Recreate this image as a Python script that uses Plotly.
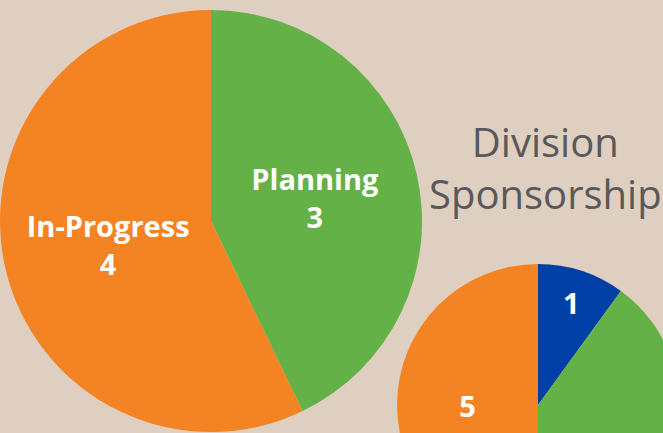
import plotly.graph_objects as go

# project status
status_labels = ["Planning", "In-Progress"]
status_values = [3, 4]
status_colors = ["#63B147", "#F48423"]

# division sponsorship
division_labels = ["Division A", "Division B", "Division C"]
division_values = [1, 4, 5]
division_colors = ["#003FA5", "#63B147", "#F48423"]

bg = "#DFCFC0"

# the figure is a bit larger than the window so the small pie gets cut off at the edges
W, H = 680, 548


def px_x(x):
    return x / W


def px_y(y):
    return 1 - y / H


fig = go.Figure()

fig.add_trace(go.Pie(
    labels=status_labels, values=status_values,
    marker=dict(colors=status_colors, line=dict(width=0)),
    sort=False, direction="clockwise", rotation=0,
    textinfo="label+value", textposition="inside",
    insidetextorientation="horizontal",
    textfont=dict(family="Open Sans", size=29, color="white", weight="bold"),
    domain=dict(x=[px_x(0), px_x(422)], y=[px_y(432), px_y(10)]),
    hoverinfo="label+value", showlegend=False,
))

fig.add_trace(go.Pie(
    labels=division_labels, values=division_values,
    marker=dict(colors=division_colors, line=dict(width=0)),
    sort=False, direction="clockwise", rotation=0,
    texttemplate=["%{value}", "", "%{value}"], textposition="inside",
    insidetextorientation="horizontal",
    textfont=dict(family="Open Sans", size=29, color="white", weight="bold"),
    domain=dict(x=[px_x(397), px_x(679)], y=[px_y(546), px_y(264)]),
    hoverinfo="label+value", showlegend=False,
))

fig.add_annotation(
    text="Division<br>Sponsorship", x=px_x(545), y=px_y(167),
    xref="paper", yref="paper", xanchor="center", yanchor="middle",
    showarrow=False,
    font=dict(family="Open Sans", size=40, color="#595959"),
    align="center",
)

fig.update_layout(
    width=W, height=H,
    margin=dict(l=0, r=0, t=0, b=0),
    paper_bgcolor=bg, plot_bgcolor=bg,
)

fig.write_html(
    "out.html",
    config={"displayModeBar": False},
    post_script="document.body.style.margin='0';document.body.style.overflow='hidden';"
                "document.documentElement.style.overflow='hidden';",
)
